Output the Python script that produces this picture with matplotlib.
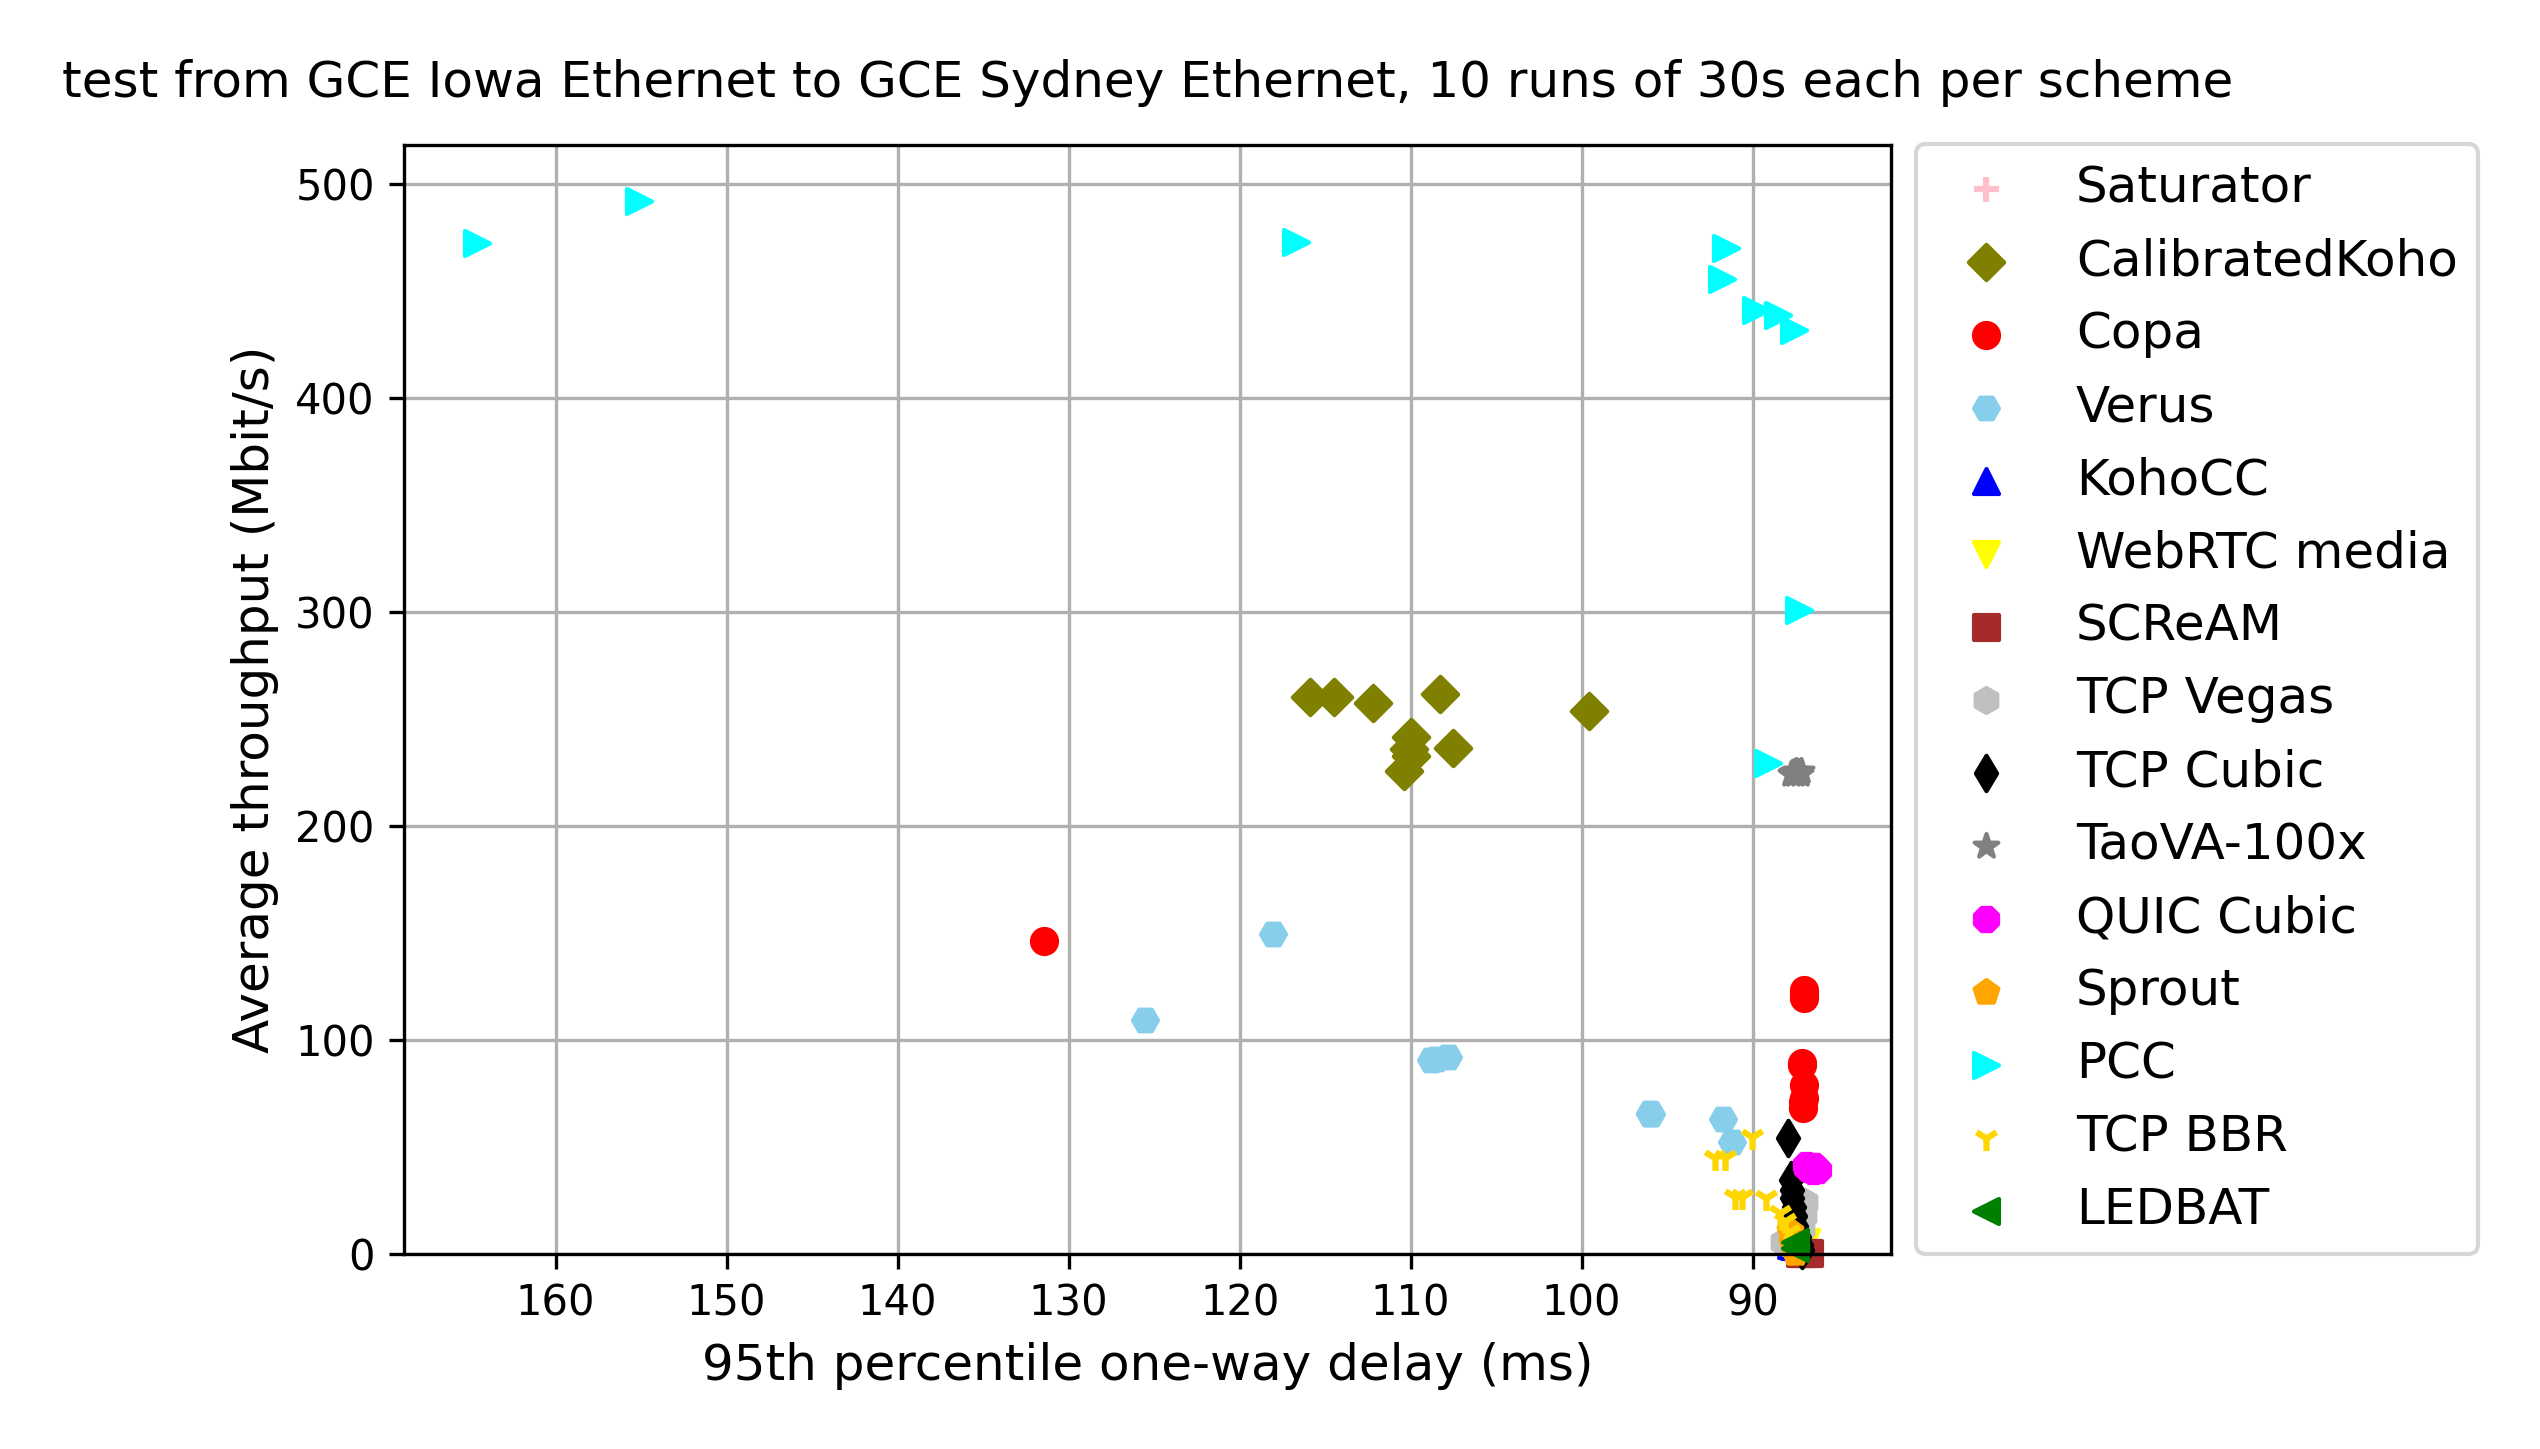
import matplotlib
matplotlib.use("Agg")
import matplotlib.pyplot as plt

# ---- data: (95th percentile one-way delay ms, average throughput Mbit/s) ----
schemes = ["Saturator", "CalibratedKoho", "Copa", "Verus", "KohoCC", "WebRTC media",
           "SCReAM", "TCP Vegas", "TCP Cubic", "TaoVA-100x", "QUIC Cubic", "Sprout",
           "PCC", "TCP BBR", "LEDBAT"]

saturator_delay = [87.2, 87.0]
saturator_tput = [3.0, 2.5]

calibratedkoho_delay = [115.9, 114.5, 112.2, 108.3, 99.6, 110.0, 110.0, 110.4, 107.5, 110.1]
calibratedkoho_tput = [260.0, 260.0, 257.6, 261.5, 253.4, 241.6, 232.7, 225.4, 236.3, 236.0]

copa_delay = [131.45, 86.98, 86.98, 87.1, 87.0, 87.05, 87.05, 87.0, 87.1, 87.0]
copa_tput = [146.2, 123.3, 119.4, 89.3, 78.8, 71.0, 67.9, 121.0, 88.0, 73.0]

verus_delay = [118.05, 125.55, 108.8, 107.8, 95.97, 96.0, 91.72, 91.19, 108.5, 96.0]
verus_tput = [149.4, 109.2, 90.5, 91.9, 65.3, 65.6, 62.8, 52.0, 91.0, 65.5]

kohocc_delay = [87.75, 87.6]
kohocc_tput = [4.0, 3.5]

webrtc_delay = [86.9, 87.0]
webrtc_tput = [5.5, 3.0]

scream_delay = [87.26, 86.73, 87.0]
scream_tput = [0.2, 0.2, 0.3]

vegas_delay = [86.93, 87.0, 88.2, 87.1]
vegas_tput = [24.2, 18.0, 5.5, 12.0]

cubic_delay = [87.92, 87.75, 87.7, 87.7, 87.6, 87.5, 87.45, 87.3, 87.2, 87.1]
cubic_tput = [54.2, 34.5, 30.0, 26.0, 22.0, 17.5, 13.0, 8.0, 4.0, 1.5]

taova_delay = [87.75, 87.6, 87.4, 87.2, 87.5, 87.7, 87.3, 87.45, 87.25, 87.6]
taova_tput = [224.0, 224.5, 225.0, 225.8, 224.2, 224.8, 225.2, 225.6, 224.4, 225.0]

quic_delay = [86.9, 86.6, 86.3, 86.2, 86.5, 86.8, 86.4, 86.7]
quic_tput = [41.5, 41.0, 40.0, 39.0, 38.8, 40.2, 41.2, 39.5]

sprout_delay = [87.8, 87.6, 87.5, 87.7]
sprout_tput = [10.5, 2.5, 0.5, 5.0]

pcc_delay = [164.63, 155.1, 116.7, 91.53, 91.77, 89.8, 88.5, 87.57, 87.3, 89.1]
pcc_tput = [472.4, 491.8, 472.7, 469.9, 455.4, 441.2, 438.9, 431.7, 300.8, 229.2]

bbr_delay = [90.02, 92.2, 91.62, 91.04, 90.65, 89.24, 88.4, 88.1, 87.9, 87.6]
bbr_tput = [54.7, 44.5, 44.5, 26.6, 26.6, 25.8, 19.2, 15.3, 10.0, 6.0]

ledbat_delay = [87.53, 87.5]
ledbat_tput = [5.5, 2.5]

delays = [saturator_delay, calibratedkoho_delay, copa_delay, verus_delay, kohocc_delay,
          webrtc_delay, scream_delay, vegas_delay, cubic_delay, taova_delay, quic_delay,
          sprout_delay, pcc_delay, bbr_delay, ledbat_delay]
tputs = [saturator_tput, calibratedkoho_tput, copa_tput, verus_tput, kohocc_tput,
         webrtc_tput, scream_tput, vegas_tput, cubic_tput, taova_tput, quic_tput,
         sprout_tput, pcc_tput, bbr_tput, ledbat_tput]

colors = ["pink", "olive", "red", "skyblue", "blue", "yellow", "brown", "silver",
          "black", "grey", "magenta", "orange", "cyan", "gold", "green"]
markers = ["+", "D", "o", "H", "^", "v", "s", "h", "d", "*", "8", "p", ">", "1", "<"]

title = "test from GCE Iowa Ethernet to GCE Sydney Ethernet, 10 runs of 30s each per scheme"

# ---- figure ----
W, H, DPI = 2540, 1449, 300
fig = plt.figure(figsize=(W / DPI, H / DPI), dpi=DPI)
ax = fig.add_axes([404 / W, (H - 1253.7) / H, 1487 / W, 1108.8 / H])

for name, d, t, c, m in zip(schemes, delays, tputs, colors, markers):
    ax.scatter(d, t, color=c, marker=m, label=name, clip_on=False)

ax.set_axisbelow(True)
ax.grid(True)
ax.set_xlim(168.87, 81.91)
ax.set_ylim(0, 518.2)
ax.set_xlabel("95th percentile one-way delay (ms)", fontsize=12)
ax.set_ylabel("Average throughput (Mbit/s)", fontsize=12)
ax.set_title(title, fontsize=12, pad=11.6)

ax.legend(scatterpoints=1, bbox_to_anchor=(1, 0.5), loc="center left", fontsize=12)

fig.savefig("out.png", dpi=DPI)
